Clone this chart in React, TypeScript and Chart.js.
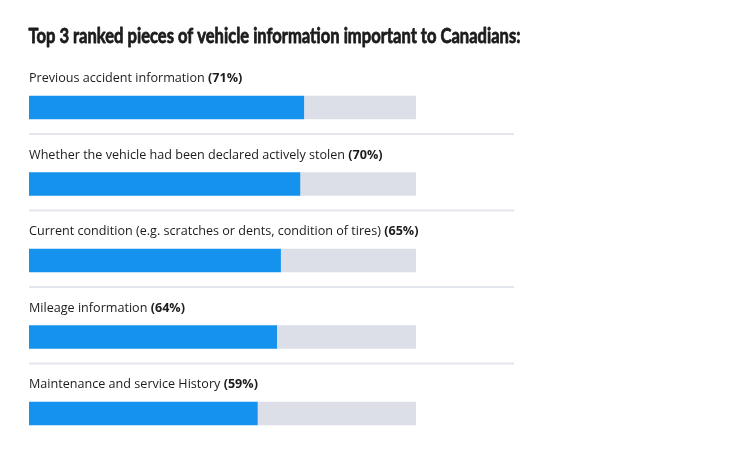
import React, { useEffect, useRef } from "react";
import { Chart, registerables } from "chart.js";

Chart.register(...registerables);

const TITLE = "Top 3 ranked pieces of vehicle information important to Canadians:";
const categories = [
  "Previous accident information",
  "Whether the vehicle had been declared actively stolen",
  "Current condition (e.g. scratches or dents, condition of tires)",
  "Mileage information",
  "Maintenance and service History",
];
const values = [71, 70, 65, 64, 59];
const MAX = 100;

const BLUE = "#1592ee";
const TRACK = "#dcdfe8";
const SEP = "#e3e6ef";
const TEXT = "#1c1c1c";
const LABEL_FONT = "12.6px 'Open Sans', 'Noto Sans', sans-serif";
const LABEL_FONT_BOLD = "bold 12.6px 'Open Sans', 'Noto Sans', sans-serif";
const TITLE_FONT = "bold 21px Lato, sans-serif";
const TITLE_WIDTH = 492;

const labelPlugin = {
  id: "rowLabels",
  afterDraw(chart: any) {
    const { ctx, chartArea, scales } = chart;
    const y = scales.y;
    ctx.save();
    // title
    ctx.font = TITLE_FONT;
    ctx.fillStyle = TEXT;
    ctx.strokeStyle = TEXT;
    ctx.lineWidth = 0.8;
    ctx.lineJoin = "round";
    ctx.textBaseline = "alphabetic";
    ctx.textAlign = "left";
    const tw = ctx.measureText(TITLE).width;
    ctx.save();
    ctx.translate(chartArea.left - 0.5, 42.5);
    ctx.scale(TITLE_WIDTH / tw, 1);
    ctx.fillText(TITLE, 0, 0);
    ctx.strokeText(TITLE, 0, 0);
    ctx.restore();

    categories.forEach((cat, i) => {
      const cy = y.getPixelForValue(i);
      const baseY = cy - 25.5;
      ctx.textBaseline = "alphabetic";
      ctx.textAlign = "left";
      ctx.fillStyle = TEXT;
      ctx.font = LABEL_FONT;
      const part1 = cat + " ";
      ctx.fillText(part1, chartArea.left, baseY);
      const w = ctx.measureText(part1).width;
      ctx.font = LABEL_FONT_BOLD;
      ctx.fillText("(" + values[i] + "%)", chartArea.left + w, baseY);
      if (i < categories.length - 1) {
        ctx.strokeStyle = SEP;
        ctx.lineWidth = 2;
        ctx.beginPath();
        const sy = cy + 26.5;
        ctx.moveTo(chartArea.left, sy);
        ctx.lineTo(chartArea.left + 485, sy);
        ctx.stroke();
      }
    });
    ctx.restore();
  },
};

export default function App() {
  const ref = useRef<HTMLCanvasElement>(null);
  useEffect(() => {
    document.body.style.margin = "0";
    const chart = new Chart(ref.current!, {
      type: "bar",
      data: {
        labels: categories,
        datasets: [
          {
            data: values,
            backgroundColor: BLUE,
            barThickness: 23,
            borderWidth: 0,
          },
          {
            data: values.map((v) => MAX - v),
            backgroundColor: TRACK,
            barThickness: 23,
            borderWidth: 0,
          },
        ],
      },
      options: {
        indexAxis: "y",
        responsive: false,
        animation: false,
        layout: { padding: { left: 29, right: 313, top: 69.25, bottom: 4.25 } },
        plugins: {
          legend: { display: false },
          tooltip: { enabled: false },
          title: { display: false },
        },
        scales: {
          x: { stacked: true, min: 0, max: MAX, display: false },
          y: { stacked: true, display: false },
        },
      },
      plugins: [labelPlugin],
    });
    return () => chart.destroy();
  }, []);
  return (
    <div style={{ position: "absolute", left: 0, top: 0 }}>
      <canvas ref={ref} width={729} height={456} />
    </div>
  );
}
